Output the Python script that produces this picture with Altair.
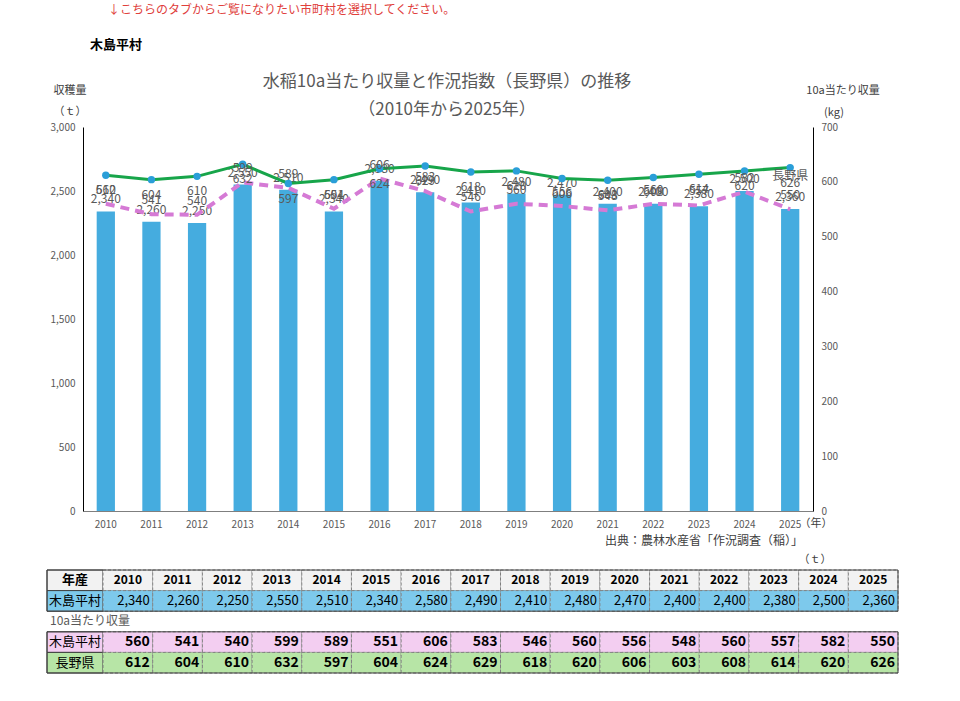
import altair as alt
import pandas as pd

FONT = "Noto Sans CJK JP"

years = [str(y) for y in range(2010, 2026)]
harvest = [2340, 2260, 2250, 2550, 2510, 2340, 2580, 2490, 2410, 2480, 2470, 2400, 2400, 2380, 2500, 2360]
village_yield = [560, 541, 540, 599, 589, 551, 606, 583, 546, 560, 556, 548, 560, 557, 582, 550]
pref_yield = [612, 604, 610, 632, 597, 604, 624, 629, 618, 620, 606, 603, 608, 614, 620, 626]

table_rows = ["年産", "harvest", "gap", "pink", "green"]
row_labels = {"年産": "年産", "harvest": "木島平村", "pink": "木島平村", "green": "長野県"}
row_colors = ["#F2F2F2", "#7DC9EC", "#FFFFFF", "#F3CEF1", "#B7E5A6"]

df = pd.DataFrame({"year": years, "harvest": harvest})
long_df = pd.DataFrame(
    [{"year": y, "series": "village", "value": v} for y, v in zip(years, village_yield)]
    + [{"year": y, "series": "pref", "value": v} for y, v in zip(years, pref_yield)]
)

GRAY = "#595959"

# ---------------- main chart ----------------
x_enc = alt.X("year:N", sort=years, title=None,
              scale=alt.Scale(paddingInner=0.6, paddingOuter=0.3),
              axis=alt.Axis(labelAngle=0, ticks=False, labelPadding=8, labelFontSize=10,
                            labelColor=GRAY, domainColor="#7F7F7F", labelFont=FONT, grid=False))

bars = alt.Chart().mark_bar(color="#45ACDF")
bar_text = alt.Chart().mark_text(dy=-12, fontSize=12, color=GRAY, font=FONT).encode(
    text=alt.Text("harvest:Q", format=","))
left = alt.layer(bars, bar_text, data=df).encode(
    x=x_enc,
    y=alt.Y("harvest:Q", scale=alt.Scale(domain=[0, 3000]), title=None,
            axis=alt.Axis(values=list(range(0, 3001, 500)), labelExpr="format(datum.value, ',')",
                          ticks=False, grid=False,
                          labelPadding=8, labelFontSize=10, labelColor=GRAY,
                          domainColor="#000000", labelFont=FONT)),
)

is_v = alt.datum.series == "village"
is_p = alt.datum.series == "pref"
pink_line = alt.Chart().transform_filter(is_v).mark_line(color="#D57AD5", strokeWidth=4, strokeDash=[9, 6])
green_line = alt.Chart().transform_filter(is_p).mark_line(color="#17A54A", strokeWidth=3)
green_pts = alt.Chart().transform_filter(is_p).mark_point(filled=True, color="#2A9ED8", size=55, opacity=1)
pink_text = alt.Chart().transform_filter(is_v).mark_text(dy=-14, fontSize=12, color=GRAY, font=FONT).encode(
    text="value:Q")
green_text = alt.Chart().transform_filter(is_p).mark_text(dy=15, fontSize=12, color=GRAY, font=FONT).encode(
    text="value:Q")
name_text = alt.Chart().transform_filter(is_p & (alt.datum.year == years[-1])).mark_text(
    dy=8, fontSize=12, color=GRAY, font=FONT, text="長野県")
right = alt.layer(pink_line, green_line, green_pts, pink_text, green_text, name_text, data=long_df).encode(
    x=alt.X("year:N", sort=years),
    y=alt.Y("value:Q", scale=alt.Scale(domain=[0, 700]), title=None,
            axis=alt.Axis(orient="right", values=list(range(0, 701, 100)), ticks=False, grid=False,
                          labelPadding=8, labelFontSize=10, labelColor=GRAY,
                          domainColor="#000000", labelFont=FONT)),
)

main = alt.layer(left, right).resolve_scale(y="independent")

# ---------------- table ----------------
cells = []
for i, y in enumerate(years):
    cells.append({"col": y, "row": "年産", "txt": y})
    cells.append({"col": y, "row": "harvest", "txt": f"{harvest[i]:,}"})
    cells.append({"col": y, "row": "pink", "txt": str(village_yield[i])})
    cells.append({"col": y, "row": "green", "txt": str(pref_yield[i])})
cells_df = pd.DataFrame(cells)

labels_df = pd.DataFrame([{"c": "label", "row": r, "txt": row_labels[r]} for r in ["年産", "harvest", "pink", "green"]])

y_tab = alt.Y("row:N", sort=table_rows, axis=None,
              scale=alt.Scale(domain=table_rows, range=[443, 546], paddingInner=0, paddingOuter=0))
fill_enc = alt.Fill("row:N", scale=alt.Scale(domain=table_rows, range=row_colors), legend=None)

x_years = alt.X("col:N", sort=years, axis=None,
                scale=alt.Scale(domain=years, range=[20, 815], paddingInner=0, paddingOuter=0))
x_years_end = alt.X("col:N", sort=years, axis=None, bandPosition=1,
                    scale=alt.Scale(domain=years, range=[20, 815], paddingInner=0, paddingOuter=0))

year_cells = alt.Chart(cells_df).mark_rect(stroke="#7F7F7F", strokeWidth=1, strokeDash=[3, 2]).encode(
    x=x_years, y=y_tab, fill=fill_enc)
year_head = alt.Chart(cells_df).transform_filter(alt.datum.row == "年産").mark_text(
    fontSize=12, fontWeight="bold", color="#000000", font=FONT).encode(
    x=x_years, y=y_tab, text="txt:N")
year_harv = alt.Chart(cells_df).transform_filter(alt.datum.row == "harvest").mark_text(
    fontSize=13, color="#000000", font=FONT, align="right", dx=-3).encode(
    x=x_years_end, y=y_tab, text="txt:N")
year_vals = alt.Chart(cells_df).transform_filter(
    (alt.datum.row == "pink") | (alt.datum.row == "green")).mark_text(
    fontSize=14, fontWeight="bold", color="#000000", font=FONT, align="right", dx=-3).encode(
    x=x_years_end, y=y_tab, text="txt:N")
years_layer = alt.layer(year_cells, year_head, year_harv, year_vals)

x_lab = alt.X("c:N", axis=None, scale=alt.Scale(domain=["label"], range=[-36, 20], paddingInner=0, paddingOuter=0))
lab_cells = alt.Chart(labels_df).mark_rect(stroke="#404040", strokeWidth=1).encode(
    x=x_lab, y=y_tab, fill=fill_enc)
lab_text_bold = alt.Chart(labels_df).transform_filter(alt.datum.row == "年産").mark_text(
    fontSize=13, fontWeight="bold", color="#000000", font=FONT).encode(
    x=x_lab, y=y_tab, text="txt:N")
lab_text = alt.Chart(labels_df).transform_filter(alt.datum.row != "年産").mark_text(
    fontSize=13, color="#000000", font=FONT).encode(
    x=x_lab, y=y_tab, text="txt:N")
label_layer = alt.layer(lab_cells, lab_text_bold, lab_text)

one = alt.Data(values=[{"a": 1}])
frame1 = alt.Chart(one).mark_rect(fill=None, stroke="#404040", strokeWidth=1).encode(
    x=alt.value(-36), x2=alt.value(815), y=alt.value(443), y2=alt.value(484.2))
frame2 = alt.Chart(one).mark_rect(fill=None, stroke="#404040", strokeWidth=1).encode(
    x=alt.value(-36), x2=alt.value(815), y=alt.value(504.8), y2=alt.value(546))

table = alt.layer(label_layer, years_layer).resolve_scale(x="independent")


# ---------------- annotations ----------------
def note(txt, x, y, size=12, color=GRAY, weight="normal", align="center"):
    return alt.Chart(one).mark_text(text=txt, fontSize=size, color=color, fontWeight=weight,
                                    align=align, baseline="middle", font=FONT).encode(
        x=alt.value(x), y=alt.value(y))


notes = alt.layer(
    note("↓こちらのタブからご覧になりたい市町村を選択してください。", 25, -117, size=12, color="#E0403C", align="left"),
    note("木島平村", 7, -82, size=13, color="#000000", weight="bold", align="left"),
    note("水稲10a当たり収量と作況指数（長野県）の推移", 364, -45, size=17, color=GRAY),
    note("（2010年から2025年）", 364, -17, size=17, color=GRAY),
    note("収穫量", -13, -36, size=11, color="#404040"),
    note("（ｔ）", -13, -15, size=11, color="#404040"),
    note("10a当たり収量", 760, -36, size=11, color="#404040"),
    note("(kg)", 751, -14, size=11, color="#404040"),
    note("（年）", 733, 397, size=11, color="#404040"),
    note("出典：農林水産省「作況調査（稲）」", 621, 414, size=12, color="#404040"),
    note("（ｔ）", 732, 433, size=11, color="#404040"),
    note("10a当たり収量", -33, 494, size=12, color=GRAY, align="left"),
    frame1, frame2,
)

chart = alt.layer(main, table, notes).resolve_scale(
    x="independent", y="independent", fill="independent"
).properties(
    width=730, height=384,
    padding={"left": 83, "top": 127, "right": 147, "bottom": 190},
    autosize=alt.AutoSizeParams(type="none"),
    background="#FFFFFF",
).configure_view(stroke=None)

chart.save("out.html", embed_options={"renderer": "svg", "actions": False})
